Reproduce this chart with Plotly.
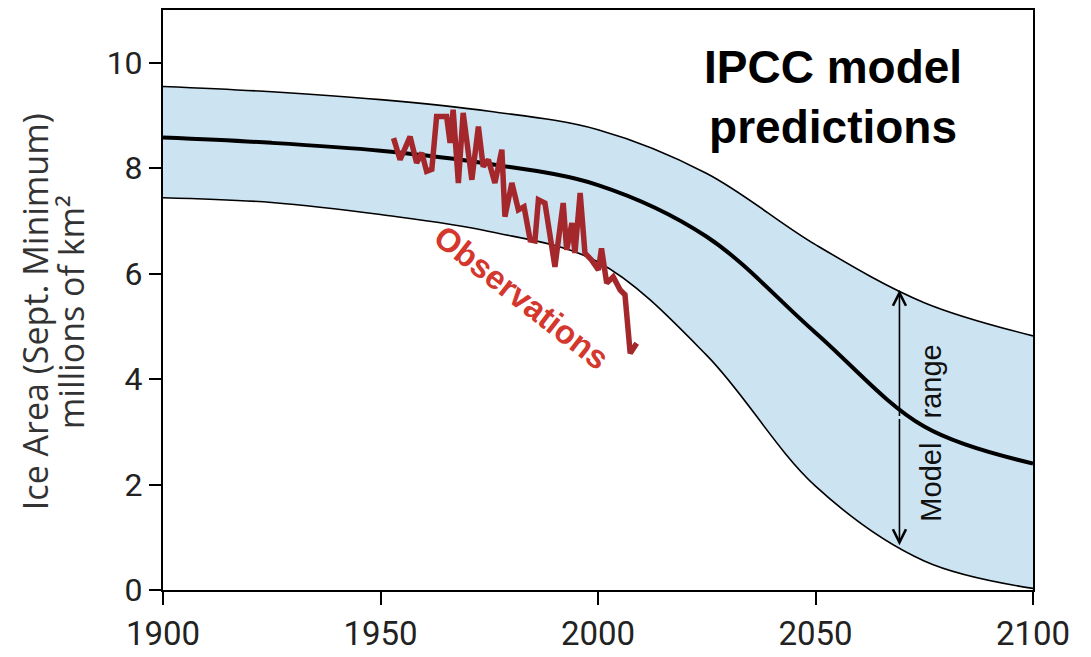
import plotly.graph_objects as go

# Model projections (millions of km^2)
model_years = [1900, 1925, 1950, 1975, 2000, 2025, 2050, 2075, 2100]
model_upper = [9.55, 9.45, 9.30, 9.08, 8.73, 7.90, 6.55, 5.45, 4.82]
model_mean = [8.58, 8.48, 8.33, 8.08, 7.68, 6.70, 4.88, 3.10, 2.40]
model_lower = [7.44, 7.35, 7.12, 6.80, 6.22, 4.45, 1.97, 0.55, 0.03]

# Observations
obs_years = [1953, 1954.5, 1956.8, 1958.3, 1959.5, 1960.6, 1961.8, 1962.9, 1965.2,
             1966, 1966.7, 1967.9, 1969, 1971, 1972.5, 1973.6, 1974.8, 1976.3,
             1977.9, 1978.6, 1980.2, 1981.7, 1983, 1984.4, 1985.5, 1986.3, 1987.8,
             1990.1, 1992, 1992.8, 1994, 1994.7, 1995.9, 1997, 1998.5, 2000.1,
             2000.8, 2002, 2003.5, 2005.1, 2006.2, 2007.4, 2008.9]
obs_values = [8.57, 8.16, 8.60, 8.10, 8.29, 7.94, 7.98, 8.98, 8.98,
              8.48, 9.11, 7.72, 9.05, 7.78, 8.79, 8.03, 8.16, 7.72,
              8.35, 7.08, 7.72, 7.21, 7.27, 6.64, 6.62, 7.40, 7.34,
              6.13, 7.34, 6.45, 6.96, 6.39, 7.53, 6.39, 6.26, 6.07,
              6.48, 5.82, 5.94, 5.69, 5.60, 4.49, 4.68]

x_ticks = [1900, 1950, 2000, 2050, 2100]
y_ticks = [0, 2, 4, 6, 8, 10]

range_year = 2069.3
range_top = 5.69
range_bottom = 0.85

fig = go.Figure()
fig.add_trace(go.Scatter(x=model_years, y=model_upper, mode="lines",
                         line=dict(color="black", width=1.6, shape="spline"),
                         showlegend=False, hoverinfo="skip"))
fig.add_trace(go.Scatter(x=model_years, y=model_lower, mode="lines", fill="tonexty",
                         fillcolor="#cce3f2",
                         line=dict(color="black", width=1.6, shape="spline"),
                         showlegend=False, hoverinfo="skip"))
fig.add_trace(go.Scatter(x=model_years, y=model_mean, mode="lines",
                         line=dict(color="black", width=4, shape="spline"),
                         showlegend=False))
fig.add_trace(go.Scatter(x=obs_years, y=obs_values, mode="lines",
                         line=dict(color="#a4282b", width=5.5),
                         showlegend=False))

mid = (range_top + range_bottom) / 2
for tip in (range_top, range_bottom):
    fig.add_annotation(x=range_year, y=tip, ax=range_year, ay=mid,
                       xref="x", yref="y", axref="x", ayref="y",
                       showarrow=True, arrowhead=5, arrowsize=1.6,
                       arrowwidth=1.6, arrowcolor="black", text="")

fig.add_annotation(x=2076.5, y=2.98, xref="x", yref="y", showarrow=False,
                   text="Model\u00a0\u00a0\u00a0range", textangle=-90,
                   font=dict(family="Liberation Sans, Arial", size=29, color="#111"))

fig.add_annotation(x=2054, y=9.35, xref="x", yref="y", showarrow=False,
                   text="<b>IPCC model<br>predictions</b>",
                   font=dict(family="Liberation Sans, Arial", size=46, color="black"))

fig.add_annotation(x=1982.5, y=5.54, xref="x", yref="y", showarrow=False,
                   text="<b>Observations</b>", textangle=38,
                   font=dict(family="Liberation Sans, Arial", size=33, color="#d3372e"))

fig.add_annotation(x=35, y=5.27, xref="paper", yref="y", showarrow=False,
                   text="Ice Area (Sept. Minimum)", textangle=-90,
                   xanchor="center", yanchor="middle",
                   font=dict(family="Open Sans", size=34, color="#333"))
fig.add_annotation(x=71, y=5.27, xref="paper", yref="y", showarrow=False,
                   text="millions of km²", textangle=-90,
                   xanchor="center", yanchor="middle",
                   font=dict(family="Open Sans", size=34, color="#333"))

# convert pixel x positions of the title lines to paper coordinates
plot_left, plot_w = 163, 1091 - 163 - 58
for ann in fig.layout.annotations[-2:]:
    ann.x = (ann.x - plot_left) / plot_w

fig.update_xaxes(range=[1900, 2100], tickvals=x_ticks, ticks="outside", ticklen=13,
                 tickwidth=2, tickcolor="black", showline=True, linewidth=2,
                 linecolor="black", mirror=True, showgrid=False, zeroline=False,
                 automargin=False,
                 tickfont=dict(family="Roboto", size=33, color="#222"))
fig.update_yaxes(range=[0, 11], tickvals=y_ticks, ticks="outside", ticklen=12,
                 tickwidth=2, tickcolor="black", showline=True, linewidth=2,
                 linecolor="black", mirror=True, showgrid=False, zeroline=False,
                 automargin=False,
                 tickfont=dict(family="Roboto", size=32, color="#222"))

fig.update_layout(width=1091, height=657, margin=dict(l=163, r=58, t=10, b=67, autoexpand=False),
                  plot_bgcolor="white", paper_bgcolor="white")

fig.write_html("out.html")
